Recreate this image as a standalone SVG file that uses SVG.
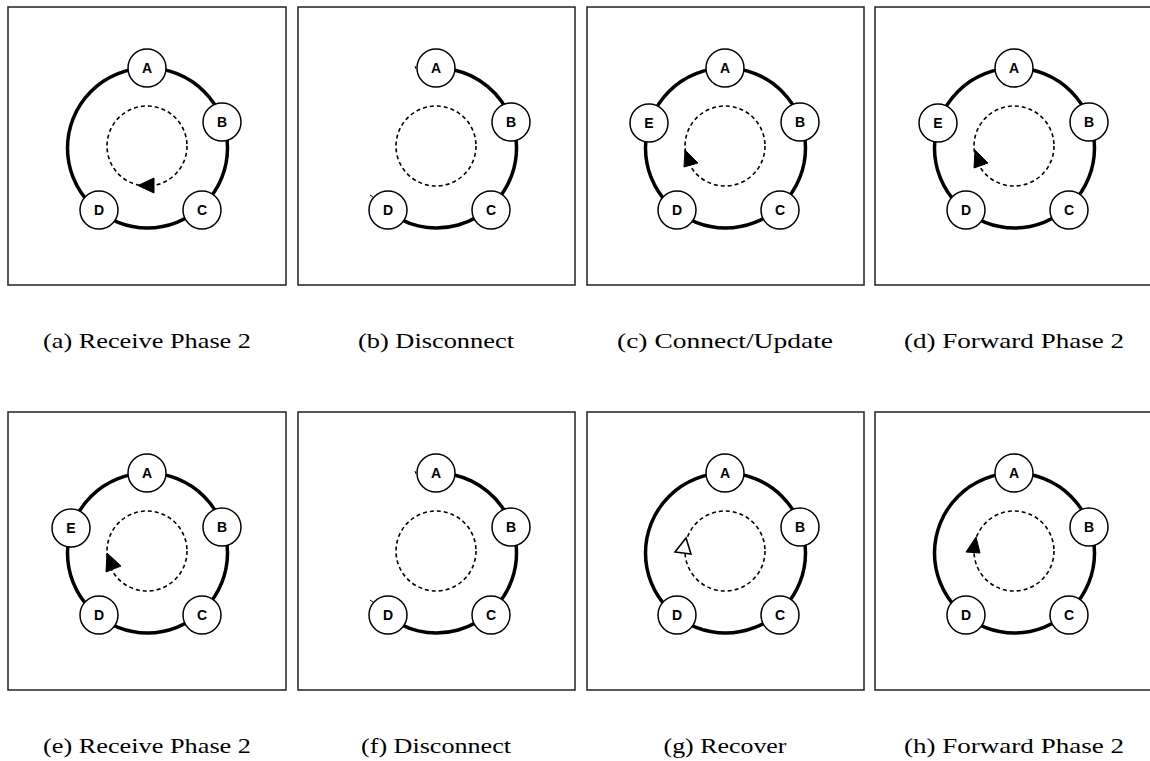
<svg xmlns="http://www.w3.org/2000/svg" width="1150" height="761" viewBox="0 0 1150 761">
<style>
.frame{fill:none;stroke:#222;stroke-width:1.5}
.ring{fill:none;stroke:#000;stroke-width:3.5}
.dash{fill:none;stroke:#000;stroke-width:1.6;stroke-dasharray:4 3}
.node circle{fill:#fff;stroke:#000;stroke-width:1.5}
.node text{font-family:"Liberation Sans",Arial,sans-serif;font-weight:bold;font-size:14px;text-anchor:middle;fill:#000}
.cap{font-family:"Liberation Serif","Times New Roman",serif;font-size:21px;text-anchor:middle;fill:#000}
.ah{fill:#000;stroke:#000;stroke-width:1}
.ahh{fill:#fff;stroke:#000;stroke-width:1.6}
.tick{stroke:#000;stroke-width:1;fill:none}
</style>
<defs>
<g id="nA" class="node"><circle cx="147" cy="68" r="19"/><text x="147" y="73">A</text></g>
<g id="nB" class="node"><circle cx="222" cy="122" r="19"/><text x="222" y="127">B</text></g>
<g id="nC" class="node"><circle cx="202" cy="210" r="19"/><text x="202" y="215">C</text></g>
<g id="nD" class="node"><circle cx="99" cy="210" r="19"/><text x="99" y="215">D</text></g>
<g id="nE" class="node"><circle cx="71" cy="123" r="19"/><text x="71" y="128">E</text></g>
</defs>

<!-- Panel a -->
<g id="panel-a">
<rect class="frame" x="8" y="7" width="278" height="278"/>
<g id="conn-a"><circle class="ring" cx="147.5" cy="148" r="80"/><circle class="dash" cx="147" cy="146" r="40"/><polygon class="ah" points="138,185.5 154,178 154,193"/></g>
<g id="a-A" class="node"><circle cx="147" cy="68" r="19"/><text x="147" y="73">A</text></g>
<g id="a-B" class="node"><circle cx="222" cy="122" r="19"/><text x="222" y="127">B</text></g>
<g id="a-C" class="node"><circle cx="202" cy="210" r="19"/><text x="202" y="215">C</text></g>
<g id="a-D" class="node"><circle cx="99" cy="210" r="19"/><text x="99" y="215">D</text></g>
<text class="cap" x="147" y="348" textLength="208" lengthAdjust="spacingAndGlyphs">(a) Receive Phase 2</text>
</g>

<!-- Panel b -->
<g id="panel-b" transform="translate(289,0)">
<rect class="frame" x="9" y="7" width="277" height="278"/>
<g id="conn-b"><path class="ring" d="M147.5,68 A80,80 0 1 1 97.15,210.17"/><circle class="dash" cx="147" cy="146" r="40"/><path class="tick" d="M126,66 l1,3 M81,195 l3,2"/></g>
<g id="b-A" class="node"><circle cx="147" cy="68" r="19"/><text x="147" y="73">A</text></g>
<g id="b-B" class="node"><circle cx="222" cy="122" r="19"/><text x="222" y="127">B</text></g>
<g id="b-C" class="node"><circle cx="202" cy="210" r="19"/><text x="202" y="215">C</text></g>
<g id="b-D" class="node"><circle cx="99" cy="210" r="19"/><text x="99" y="215">D</text></g>
<text class="cap" x="147" y="348" textLength="156" lengthAdjust="spacingAndGlyphs">(b) Disconnect</text>
</g>

<!-- Panel c -->
<g id="panel-c" transform="translate(578,0)">
<rect class="frame" x="9" y="7" width="277" height="278"/>
<g id="conn-c"><circle class="ring" cx="147.5" cy="148" r="80"/><circle class="dash" cx="147" cy="146" r="40"/><polygon class="ah" points="107,150 120,163 106,167"/></g>
<g id="c-A" class="node"><circle cx="147" cy="68" r="19"/><text x="147" y="73">A</text></g>
<g id="c-B" class="node"><circle cx="222" cy="122" r="19"/><text x="222" y="127">B</text></g>
<g id="c-C" class="node"><circle cx="202" cy="210" r="19"/><text x="202" y="215">C</text></g>
<g id="c-D" class="node"><circle cx="99" cy="210" r="19"/><text x="99" y="215">D</text></g>
<g id="c-E" class="node"><circle cx="71" cy="123" r="19"/><text x="71" y="128">E</text></g>
<text class="cap" x="147" y="348" textLength="216" lengthAdjust="spacingAndGlyphs">(c) Connect/Update</text>
</g>

<!-- Panel d -->
<g id="panel-d" transform="translate(867,0)">
<rect class="frame" x="8" y="7" width="280" height="278"/>
<g id="conn-d"><circle class="ring" cx="147.5" cy="148" r="80"/><circle class="dash" cx="147" cy="146" r="40"/><polygon class="ah" points="108,150 121,163 107,168"/></g>
<g id="d-A" class="node"><circle cx="147" cy="68" r="19"/><text x="147" y="73">A</text></g>
<g id="d-B" class="node"><circle cx="222" cy="122" r="19"/><text x="222" y="127">B</text></g>
<g id="d-C" class="node"><circle cx="202" cy="210" r="19"/><text x="202" y="215">C</text></g>
<g id="d-D" class="node"><circle cx="99" cy="210" r="19"/><text x="99" y="215">D</text></g>
<g id="d-E" class="node"><circle cx="71" cy="123" r="19"/><text x="71" y="128">E</text></g>
<text class="cap" x="147" y="348" textLength="220" lengthAdjust="spacingAndGlyphs">(d) Forward Phase 2</text>
</g>

<!-- Panel e -->
<g id="panel-e" transform="translate(0,405)">
<rect class="frame" x="8" y="7" width="278" height="278"/>
<g id="conn-e"><circle class="ring" cx="147.5" cy="148" r="80"/><circle class="dash" cx="147" cy="146" r="40"/><polygon class="ah" points="107,148 121,161 106,167"/></g>
<g id="e-A" class="node"><circle cx="147" cy="68" r="19"/><text x="147" y="73">A</text></g>
<g id="e-B" class="node"><circle cx="222" cy="122" r="19"/><text x="222" y="127">B</text></g>
<g id="e-C" class="node"><circle cx="202" cy="210" r="19"/><text x="202" y="215">C</text></g>
<g id="e-D" class="node"><circle cx="99" cy="210" r="19"/><text x="99" y="215">D</text></g>
<g id="e-E" class="node"><circle cx="71" cy="123" r="19"/><text x="71" y="128">E</text></g>
<text class="cap" x="147" y="348" textLength="208" lengthAdjust="spacingAndGlyphs">(e) Receive Phase 2</text>
</g>

<!-- Panel f -->
<g id="panel-f" transform="translate(289,405)">
<rect class="frame" x="9" y="7" width="277" height="278"/>
<g id="conn-f"><path class="ring" d="M147.5,68 A80,80 0 1 1 97.15,210.17"/><circle class="dash" cx="147" cy="146" r="40"/><path class="tick" d="M126,66 l1,3 M81,195 l3,2"/></g>
<g id="f-A" class="node"><circle cx="147" cy="68" r="19"/><text x="147" y="73">A</text></g>
<g id="f-B" class="node"><circle cx="222" cy="122" r="19"/><text x="222" y="127">B</text></g>
<g id="f-C" class="node"><circle cx="202" cy="210" r="19"/><text x="202" y="215">C</text></g>
<g id="f-D" class="node"><circle cx="99" cy="210" r="19"/><text x="99" y="215">D</text></g>
<text class="cap" x="147" y="348" textLength="150" lengthAdjust="spacingAndGlyphs">(f) Disconnect</text>
</g>

<!-- Panel g -->
<g id="panel-g" transform="translate(578,405)">
<rect class="frame" x="9" y="7" width="277" height="278"/>
<g id="conn-g"><circle class="ring" cx="147.5" cy="148" r="80"/><circle class="dash" cx="147" cy="146" r="40"/><polygon class="ahh" points="108,133 97,147 113,149"/></g>
<g id="g-A" class="node"><circle cx="147" cy="68" r="19"/><text x="147" y="73">A</text></g>
<g id="g-B" class="node"><circle cx="222" cy="122" r="19"/><text x="222" y="127">B</text></g>
<g id="g-C" class="node"><circle cx="202" cy="210" r="19"/><text x="202" y="215">C</text></g>
<g id="g-D" class="node"><circle cx="99" cy="210" r="19"/><text x="99" y="215">D</text></g>
<text class="cap" x="147" y="348" textLength="123" lengthAdjust="spacingAndGlyphs">(g) Recover</text>
</g>

<!-- Panel h -->
<g id="panel-h" transform="translate(867,405)">
<rect class="frame" x="8" y="7" width="280" height="278"/>
<g id="conn-h"><circle class="ring" cx="147.5" cy="148" r="80"/><circle class="dash" cx="147" cy="146" r="40"/><polygon class="ah" points="109,132 99,147 113,148"/></g>
<g id="h-A" class="node"><circle cx="147" cy="68" r="19"/><text x="147" y="73">A</text></g>
<g id="h-B" class="node"><circle cx="222" cy="122" r="19"/><text x="222" y="127">B</text></g>
<g id="h-C" class="node"><circle cx="202" cy="210" r="19"/><text x="202" y="215">C</text></g>
<g id="h-D" class="node"><circle cx="99" cy="210" r="19"/><text x="99" y="215">D</text></g>
<text class="cap" x="147" y="348" textLength="220" lengthAdjust="spacingAndGlyphs">(h) Forward Phase 2</text>
</g>
</svg>
